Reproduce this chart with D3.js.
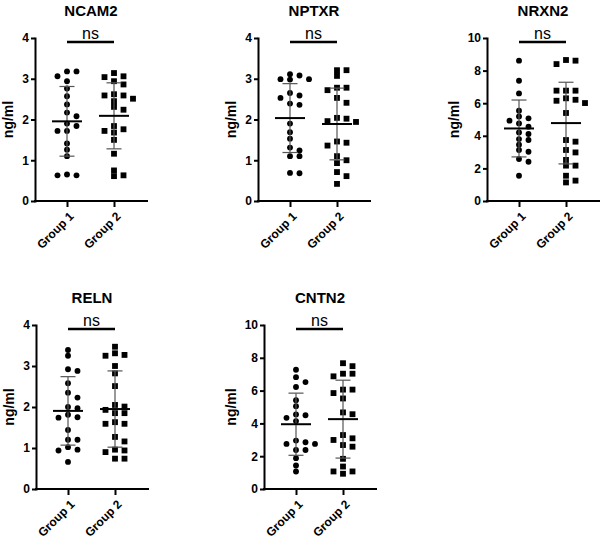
<!DOCTYPE html>
<html><head><meta charset="utf-8">
<script src="https://cdn.jsdelivr.net/npm/d3@7"></script>
<style>body{margin:0;background:#fff}svg{display:block}</style>
</head><body>
<script>
// ---------- data ----------
const groups = ["Group 1", "Group 2"];
const titles = ["NCAM2", "NPTXR", "NRXN2", "RELN", "CNTN2"];
const yMax = [4, 4, 10, 4, 10];
const yTicks = [[0,1,2,3,4],[0,1,2,3,4],[0,2,4,6,8,10],[0,1,2,3,4],[0,2,4,6,8,10]];
const sigLabel = "ns";
const yLabel = "ng/ml";

const ncam2G1 = [3.06,3.18,3.18,2.94,2.76,2.57,2.37,2.17,2.08,1.90,1.84,1.72,1.72,1.41,1.26,1.10,0.63,0.65,0.63];
const ncam2G2 = [3.06,3.14,3.04,2.94,2.86,2.62,2.59,2.59,2.51,2.45,2.31,2.24,1.84,1.76,1.72,1.68,1.50,1.16,0.75,0.61,0.63];
const nptxrG1 = [3.08,3.11,2.99,2.98,2.99,2.65,2.59,2.53,2.39,2.36,1.90,1.69,1.53,1.31,1.24,1.10,1.10,0.68,0.69];
const nptxrG2 = [3.21,3.21,3.07,2.78,2.78,2.72,2.53,2.41,2.04,2.02,1.96,1.94,1.46,1.43,1.36,1.10,1.00,0.93,0.71,0.61,0.42];
const nrxn2G1 = [8.61,7.38,6.60,5.54,5.19,5.07,4.93,4.76,4.56,4.21,4.11,3.80,3.74,3.45,3.13,3.02,2.58,2.41,1.55];
const nrxn2G2 = [8.65,8.61,8.40,6.77,6.77,6.77,6.30,6.21,6.15,6.01,5.40,3.74,3.64,3.13,2.98,2.52,2.17,2.17,1.55,1.25,1.14];
const relnG1  = [3.39,3.25,2.92,2.88,2.58,2.35,2.23,2.00,1.97,1.81,1.75,1.74,1.44,1.20,1.20,1.02,0.96,0.94,0.66];
const relnG2  = [3.47,3.31,3.27,3.25,3.00,2.82,2.51,2.05,2.01,1.93,1.85,1.85,1.63,1.59,1.59,1.27,1.16,0.96,0.94,0.90,0.74,0.74];
const cntn2G1 = [7.27,6.82,6.52,6.22,5.41,5.05,4.55,4.50,4.34,4.14,2.95,2.85,2.75,2.75,2.38,2.38,1.88,1.43,1.07];
const cntn2G2 = [7.67,7.49,7.03,7.03,6.87,6.06,6.06,5.85,5.52,4.67,4.56,3.29,3.09,2.99,2.68,2.58,1.84,1.37,1.07,1.07,0.93];

const means = [[1.955,2.09],[2.035,1.89],[4.45,4.78],[1.905,1.95],[3.95,4.26]];
const sds   = [[0.855,0.81],[0.845,0.88],[1.745,2.505],[0.835,0.93],[1.895,2.375]];

const panelValues = [
  [ncam2G1, ncam2G2], [nptxrG1, nptxrG2], [nrxn2G1, nrxn2G2], [relnG1, relnG2], [cntn2G1, cntn2G2]
];

// ---------- layout ----------
const W = 600, H = 542;
const layout = [
  {left: 35,  top: 38,  bottom: 201},
  {left: 258, top: 38,  bottom: 201},
  {left: 487, top: 38,  bottom: 201},
  {left: 36,  top: 325, bottom: 489},
  {left: 264, top: 325, bottom: 489}
];
const plotW = 112;
const FONT = "'Liberation Sans', Arial, Helvetica, sans-serif";

const svg = d3.select("body").append("svg").attr("width", W).attr("height", H)
  .style("font-family", FONT);

function dodge(values, y, unit, thresh) {
  const order = values.map((v, i) => i).sort((a, b) => values[b] - values[a]);
  const placed = [];
  const offs = new Array(values.length).fill(0);
  const cand = [0, 1, -1, 2, -2, 3, -3];
  order.forEach(i => {
    const py = y(values[i]);
    for (const c of cand) {
      if (!placed.some(p => p.c === c && Math.abs(p.y - py) < thresh)) {
        offs[i] = c; placed.push({c, y: py}); break;
      }
    }
  });
  return offs.map(c => c * unit);
}

titles.forEach((title, pi) => {
  const L = layout[pi];
  const g = svg.append("g");
  const y = d3.scaleLinear().domain([0, yMax[pi]]).range([L.bottom, L.top]);
  const x = d3.scalePoint().domain(groups).range([L.left + 32, L.left + 79]);

  // title
  g.append("text").attr("x", L.left + plotW / 2).attr("y", L.top - 22)
    .attr("text-anchor", "middle").attr("font-size", 15).attr("font-weight", "bold")
    .text(title);

  // y axis
  const ya = g.append("g").attr("transform", `translate(${L.left},0)`)
    .call(d3.axisLeft(y).tickValues(yTicks[pi]).tickFormat(d3.format("d"))
      .tickSize(4).tickPadding(2).tickSizeOuter(0));
  ya.select(".domain").attr("stroke", "#000").attr("stroke-width", 2).attr("stroke-linecap", "square");
  ya.selectAll(".tick line").attr("stroke", "#000").attr("stroke-width", 2);
  ya.selectAll(".tick text").attr("font-size", 12).attr("font-weight", "bold")
    .attr("font-family", FONT).attr("fill", "#000");

  // x axis
  g.append("line").attr("x1", L.left).attr("x2", L.left + plotW)
    .attr("y1", L.bottom).attr("y2", L.bottom)
    .attr("stroke", "#000").attr("stroke-width", 2).attr("stroke-linecap", "square");
  const xa = g.append("g").attr("transform", `translate(0,${L.bottom})`)
    .call(d3.axisBottom(x).tickSize(6).tickSizeOuter(0));
  xa.select(".domain").remove();
  xa.selectAll(".tick line").attr("stroke", "#000").attr("stroke-width", 2);
  xa.selectAll(".tick text").attr("font-size", 12).attr("font-weight", "bold")
    .attr("font-family", FONT).attr("fill", "#000")
    .attr("text-anchor", "end").attr("dy", null).attr("y", null)
    .attr("transform", "translate(7,16) rotate(-45)");

  // y label
  const bb = ya.node().getBBox();
  g.append("text")
    .attr("transform", `translate(${L.left + bb.x - 9},${(L.top + L.bottom) / 2}) rotate(-90)`)
    .attr("text-anchor", "middle").attr("font-size", 14).attr("font-weight", "bold")
    .text(yLabel);

  // points
  groups.forEach((grp, gi) => {
    const vals = panelValues[pi][gi];
    const offs = dodge(vals, y, 9.5, 5.2);
    const sym = d3.symbol().type(gi === 0 ? d3.symbolCircle : d3.symbolSquare)
      .size(gi === 0 ? 27 : 34);
    g.append("g").selectAll("path").data(vals).join("path")
      .attr("d", sym)
      .attr("transform", (d, i) => `translate(${x(grp) + offs[i]},${y(d)})`)
      .attr("fill", "#000");

    // error bars (mean ± SD)
    const m = means[pi][gi], s = sds[pi][gi];
    const cx = x(grp);
    const eg = g.append("g").attr("stroke", "#555").attr("stroke-width", 1.2);
    eg.append("line").attr("x1", cx).attr("x2", cx).attr("y1", y(m + s)).attr("y2", y(m - s));
    [m + s, m - s].forEach(v => {
      eg.append("line").attr("x1", cx - 7.5).attr("x2", cx + 7.5).attr("y1", y(v)).attr("y2", y(v));
    });
    g.append("line").attr("x1", cx - 15).attr("x2", cx + 15).attr("y1", y(m)).attr("y2", y(m))
      .attr("stroke", "#000").attr("stroke-width", 2);
  });

  // significance bar
  const barY = L.top + 4;
  g.append("line").attr("x1", x(groups[0])).attr("x2", x(groups[1]))
    .attr("y1", barY).attr("y2", barY).attr("stroke", "#000").attr("stroke-width", 2.5);
  g.append("text").attr("x", (x(groups[0]) + x(groups[1])) / 2).attr("y", barY - 3)
    .attr("text-anchor", "middle").attr("font-size", 16).text(sigLabel);
});
</script>
</body></html>
